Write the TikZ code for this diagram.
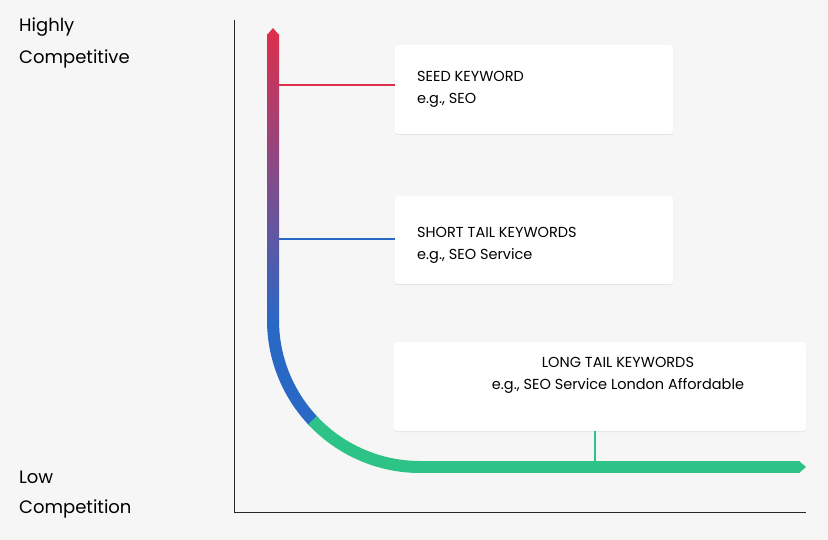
\documentclass[tikz,border=0pt]{standalone}
\usepackage{fontspec}
\setmainfont{Poppins}
\usetikzlibrary{shadows}
\definecolor{bg}{HTML}{F6F6F6}
\definecolor{cred}{HTML}{DC2F4E}
\definecolor{cblue}{HTML}{2A68C6}
\definecolor{cgreen}{HTML}{2DC387}
\begin{document}
\begin{tikzpicture}[x=1pt,y=-1pt,
  card/.style={draw=none,fill=white,rounded corners=3pt,drop shadow={shadow xshift=0pt,shadow yshift=-1pt,opacity=0.15}},
  axis/.style={font=\fontsize{18}{20}\selectfont,anchor=west,inner sep=0pt},
  ctext/.style={font=\fontsize{14.5}{22}\selectfont,inner sep=0pt,align=left}]
\fill[bg] (0,0) rectangle (828,540);
\useasboundingbox (0,0) rectangle (828,540);
% axes
\draw[black!85,line width=1pt] (234,20) -- (234,512) -- (806,512);
\node[axis] (hi1) at (19,27) {Highly};
\node[axis] (hi2) at (19,59) {Competitive};
\node[axis] (lo1) at (19,477) {Low};
\node[axis] (lo2) at (19,509) {Competition};
% curve
\shade[top color=cred,bottom color=cblue] (267,35) rectangle (279,321);
\fill[cred] (267,35) -- (273,28) -- (279,35) -- cycle;
\draw[cblue,line width=12pt] (273,320) arc[start angle=180,end angle=136,radius=147];
\draw[cgreen,line width=12pt] (420,320) ++(137:147) arc[start angle=137,end angle=90,radius=147];
\draw[cgreen,line width=12pt] (419.5,467) -- (800,467);
\fill[cgreen] (799,461) -- (806,467) -- (799,473) -- cycle;
% cards
\path[card] (395,45) rectangle (673,134);
\path[card] (395,196) rectangle (673,284);
\path[card] (394,342) rectangle (806,431);
\node[ctext,anchor=north west] (c1) at (417,71) {SEED KEYWORD\\e.g., SEO};
\node[ctext,anchor=north west] (c2) at (417,227) {SHORT TAIL KEYWORDS\\e.g., SEO Service};
\node[ctext,align=center,anchor=north] (c3) at (618,357) {LONG TAIL KEYWORDS\\e.g., SEO Service London Affordable};
\coordinate (a1) at (279,85); \coordinate (b1) at (395,85);
\coordinate (a2) at (279,239); \coordinate (b2) at (395,239);
\coordinate (a3) at (595,431); \coordinate (b3) at (595,461);
\draw[cred,line width=1.5pt] (a1) -- (b1);
\draw[cblue,line width=1.5pt] (a2) -- (b2);
\draw[cgreen,line width=1.5pt] (a3) -- (b3);
\end{tikzpicture}
\end{document}
